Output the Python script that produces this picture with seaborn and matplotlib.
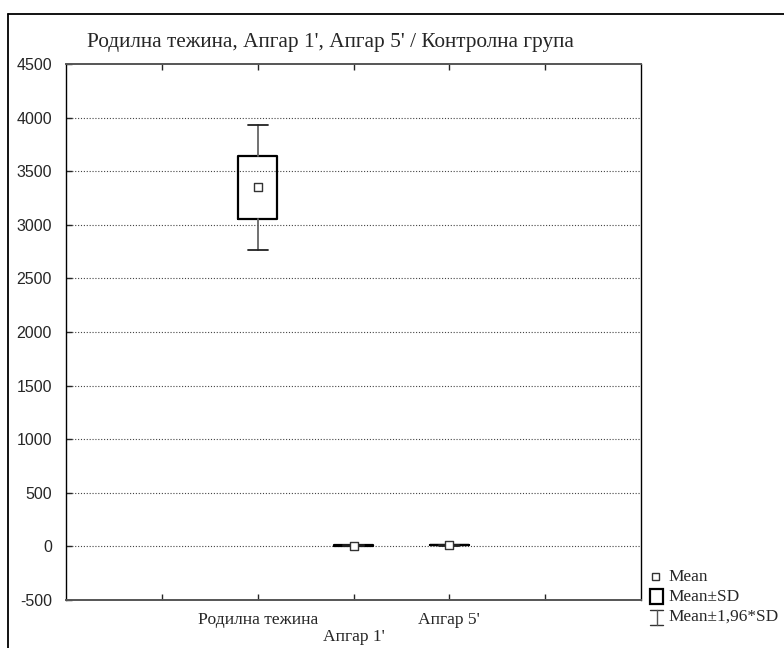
import numpy as np
import pandas as pd
import matplotlib
matplotlib.use("Agg")
import matplotlib.pyplot as plt
from matplotlib.lines import Line2D
from matplotlib.patches import Rectangle
import seaborn as sns

# Summary statistics per variable
categories = ["Родилна тежина", "Апгар 1'", "Апгар 5'"]
means = [3348, 8.2, 9.1]
sds = [296, 1.1, 0.6]
positions = [2, 3, 4]

y_ticks = [-500, 0, 500, 1000, 1500, 2000, 2500, 3000, 3500, 4000, 4500]
title = "Родилна тежина, Апгар 1', Апгар 5' / Контролна група"
legend_labels = ["Mean", "Mean±SD", "Mean±1,96*SD"]

sns.set_style("white")
plt.rcParams["font.family"] = ["Liberation Sans", "DejaVu Sans"]
serif = ["Liberation Serif", "DejaVu Serif"]

W, H = 784, 648
fig = plt.figure(figsize=(W / 100, H / 100), dpi=100)
ax = fig.add_axes([66 / W, 1 - 600 / H, (641 - 66) / W, (600 - 64) / H])

df = pd.DataFrame({"cat": categories, "mean": means, "sd": sds, "pos": positions})

# Box = mean ± SD, whiskers = mean ± 1.96*SD
stats = []
for _, r in df.iterrows():
    stats.append({
        "med": r["mean"],
        "q1": r["mean"] - r["sd"],
        "q3": r["mean"] + r["sd"],
        "whislo": r["mean"] - 1.96 * r["sd"],
        "whishi": r["mean"] + 1.96 * r["sd"],
        "label": r["cat"],
    })

ax.bxp(stats, positions=df["pos"], widths=0.41, capwidths=0.21,
       showfliers=False, manage_ticks=False,
       boxprops=dict(color="black", linewidth=1.6),
       whiskerprops=dict(color="#666666", linewidth=1.3),
       capprops=dict(color="#222222", linewidth=1.3),
       medianprops=dict(linewidth=0))

sns.scatterplot(data=df, x="pos", y="mean", marker="s", s=36,
                facecolor="white", edgecolor="#333333", linewidth=1.0,
                zorder=5, ax=ax, legend=False)

ax.set_xlim(0, 6)
ax.set_ylim(-500, 4500)
ax.set_yticks(y_ticks)
ax.set_yticklabels([str(v) for v in y_ticks], fontsize=11.5)
ax.set_xticks([1, 2, 3, 4, 5])
ax.set_xticklabels(["", categories[0], "\n" + categories[1], categories[2], ""],
                   fontsize=12.6, family=serif, linespacing=1.05)
ax.set_xlabel("")
ax.set_ylabel("")

ax.tick_params(axis="y", direction="in", length=4, width=1, pad=10, left=True)
ax.tick_params(axis="x", direction="in", length=4, width=1, pad=9,
               bottom=True, top=True)

for v in y_ticks[1:-1]:
    ax.axhline(v, color="#444444", linewidth=0.8, linestyle=(0, (1, 1.6)), zorder=0)

for side in ["left", "right"]:
    ax.spines[side].set_color("black")
    ax.spines[side].set_linewidth(1.0)
for side in ["top", "bottom"]:
    ax.spines[side].set_color("#555555")
    ax.spines[side].set_linewidth(1.4)

fig.text(87 / W, 1 - 47 / H, title, family=serif, fontsize=15.3,
         ha="left", va="baseline")

# Outer frame
fig.add_artist(Line2D([8 / W, 8 / W], [0, 1 - 14 / H], transform=fig.transFigure,
                      color="black", linewidth=1.3))
fig.add_artist(Line2D([8 / W, 1], [1 - 14 / H, 1 - 14 / H], transform=fig.transFigure,
                      color="black", linewidth=1.3))

# Legend
def fx(px):
    return px / W

def fy(py):
    return 1 - py / H

fig.add_artist(Rectangle((fx(652), fy(580)), 7 / W, 7 / H, transform=fig.transFigure,
                         facecolor="white", edgecolor="#333333", linewidth=1.0))
fig.add_artist(Rectangle((fx(650), fy(604)), 13 / W, 15 / H, transform=fig.transFigure,
                         facecolor="white", edgecolor="black", linewidth=1.6))
fig.add_artist(Line2D([fx(650), fx(663)], [fy(610), fy(610)], transform=fig.transFigure,
                      color="#333333", linewidth=1.0))
fig.add_artist(Line2D([fx(650), fx(663)], [fy(625), fy(625)], transform=fig.transFigure,
                      color="#333333", linewidth=1.0))
fig.add_artist(Line2D([fx(656.5), fx(656.5)], [fy(610), fy(625)], transform=fig.transFigure,
                      color="#555555", linewidth=1.0))
for lbl, py in zip(legend_labels, [577, 597, 617]):
    fig.text(fx(668), fy(py), lbl, family=serif, fontsize=12.4, ha="left", va="center")

fig.savefig("out.png", dpi=100)
